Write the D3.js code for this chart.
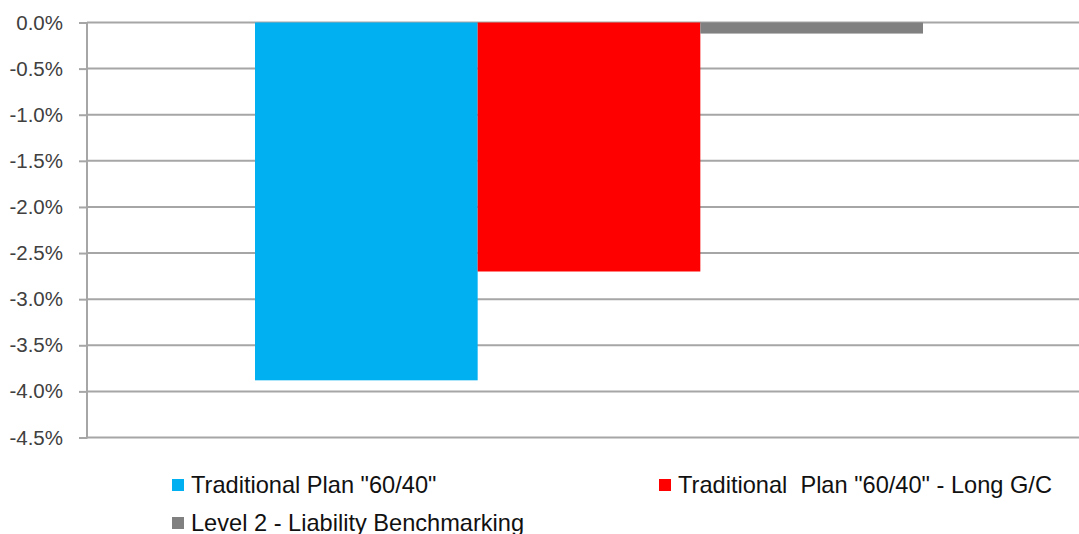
<!DOCTYPE html>
<html>
<head>
<meta charset="utf-8">
<script src="https://cdn.jsdelivr.net/npm/d3@7"></script>
<style>
  body { margin: 0; background: #fff; }
  svg { display: block; }
</style>
</head>
<body>
<script>
var categories = ["Funded status change"];
var seriesNames = ["Traditional Plan \"60/40\"", "Traditional  Plan \"60/40\" - Long G/C", "Level 2 - Liability Benchmarking"];
var seriesValues = [-3.88, -2.70, -0.12];
var seriesColors = ["#00b0f0", "#ff0000", "#808080"];
var yTicks = [0, -0.5, -1.0, -1.5, -2.0, -2.5, -3.0, -3.5, -4.0, -4.5];

var w = 1079; // svg width
var h = 534;  // svg height
var left = 87; // y axis position
var top0 = 22.5;
var bottom0 = 437.5;

var svg = d3.select("body")
    .append("svg")
    .attr("width", w)
    .attr("height", h);

// plot area runs a bit past the right edge of the picture
var x0 = d3.scaleBand()
    .domain(categories)
    .range([left, 1091])
    .paddingInner(0)
    .paddingOuter(0.2515);

var x1 = d3.scaleBand()
    .domain(seriesNames)
    .range([0, x0.bandwidth()]);

var yScale = d3.scaleLinear()
    .domain([-4.5, 0])
    .range([bottom0, top0]);

// gridlines
svg.append("g")
    .selectAll("line")
    .data(yTicks)
    .enter()
    .append("line")
    .attr("x1", left)
    .attr("x2", w)
    .attr("y1", function(d) { return yScale(d); })
    .attr("y2", function(d) { return yScale(d); })
    .attr("stroke", "#a6a6a6")
    .attr("stroke-width", 2);

var yAxis = d3.axisLeft()
    .scale(yScale)
    .tickValues(yTicks)
    .tickSize(8)
    .tickPadding(16)
    .tickFormat(function(d) { return d3.format(".1f")(d).replace("−", "-") + "%"; });

var gy = svg.append("g")
    .attr("transform", "translate(" + left + ", 0)")
    .call(yAxis);

gy.select(".domain").remove();
gy.selectAll(".tick line")
    .attr("stroke", "#a6a6a6")
    .attr("stroke-width", 2);
gy.selectAll(".tick text")
    .attr("fill", "#404040")
    .attr("font-family", "Liberation Sans, Arial, sans-serif")
    .attr("font-size", "20.5px");

gy.append("line")
    .attr("x1", 0)
    .attr("x2", 0)
    .attr("y1", top0)
    .attr("y2", bottom0 + 1)
    .attr("stroke", "#a6a6a6")
    .attr("stroke-width", 2);

// bars
var bars = seriesNames.map(function(s, i) {
    return { cat: categories[0], name: s, value: seriesValues[i], color: seriesColors[i] };
});

svg.append("g")
    .selectAll("rect")
    .data(bars)
    .enter()
    .append("rect")
    .attr("x", function(d) { return x0(d.cat) + x1(d.name); })
    .attr("y", function(d) { return yScale(0); })
    .attr("width", x1.bandwidth())
    .attr("height", function(d) { return yScale(d.value) - yScale(0); })
    .attr("fill", function(d) { return d.color; });

// legend: two columns
var legend = svg.append("g")
    .selectAll("g")
    .data(bars)
    .enter()
    .append("g")
    .attr("transform", function(d, i) {
        return "translate(" + (i % 2 === 0 ? 172 : 659) + "," + (479 + Math.floor(i / 2) * 38) + ")";
    });

legend.append("rect")
    .attr("width", 12)
    .attr("height", 12)
    .attr("fill", function(d) { return d.color; });

legend.append("text")
    .attr("x", 19)
    .attr("y", 14)
    .style("white-space", "pre")
    .attr("fill", "#111")
    .attr("font-family", "Liberation Sans, Arial, sans-serif")
    .attr("font-size", "23.6px")
    .text(function(d) { return d.name; });
</script>
</body>
</html>
